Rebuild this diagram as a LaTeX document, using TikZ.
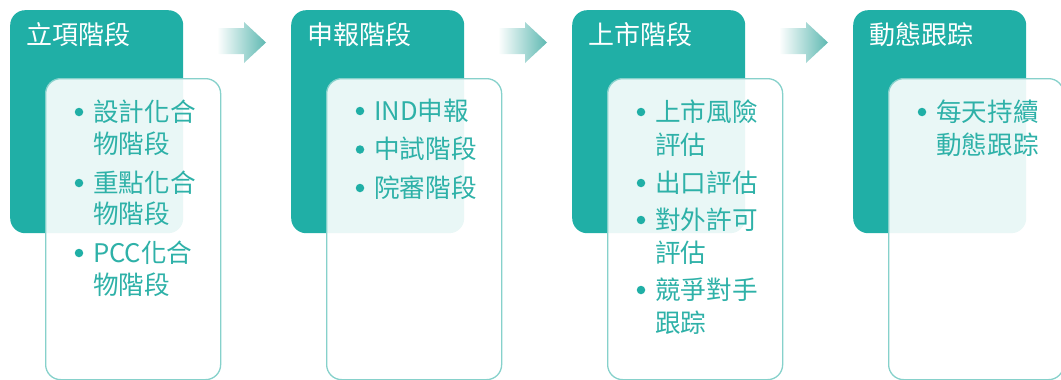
\documentclass[tikz,border=0pt]{standalone}
\usepackage{fontspec}
\setmainfont{Noto Sans CJK TC}
\definecolor{teal1}{HTML}{20AFA6}
\definecolor{edge1}{HTML}{86D1CB}
\definecolor{txt1}{HTML}{2EB1A8}
\definecolor{arr1}{HTML}{5FB9B2}
\begin{document}
\begin{tikzpicture}[x=1pt,y=-1pt,
 dark/.style={fill=teal1, rounded corners=15pt, minimum width=173pt, minimum height=223pt, anchor=north west, inner sep=0pt},
 light/.style={draw=edge1, line width=1.3pt, fill=white, fill opacity=0.9, rounded corners=15pt, minimum width=175pt, minimum height=301pt, anchor=north west, inner sep=0pt},
 ttl/.style={anchor=base west, text=white, font=\fontsize{26}{30}\selectfont, inner sep=0pt},
 itm/.style={anchor=base west, text=txt1, font=\fontsize{25.6}{30}\selectfont, inner sep=0pt},
 dot/.style={circle, fill=teal1, minimum size=8.5pt, inner sep=0pt},
 arrowshade/.style={left color=white, right color=arr1},
]
\useasboundingbox (0,0) rectangle (1061,380);

% block 1
\node[dark] (d1) at (10,10) {};
\node[ttl] (t1) at (26,45) {立項階段};
\shade[arrowshade] (217,28) -- (244,28) -- (244,22) -- (266,42.5) -- (244,63) -- (244,54) -- (217,54) -- cycle;
\node[light] (l1) at (45,78) {};
\node[dot] (b11) at (79,112) {};
\node[itm] (i11) at (93,121) {設計化合};
\node[itm] (i11b) at (93,153) {物階段};
\node[dot] (b12) at (79,183) {};
\node[itm] (i12) at (93,192) {重點化合};
\node[itm] (i12b) at (93,223) {物階段};
\node[dot] (b13) at (79,253) {};
\node[itm] (i13) at (93,262) {PCC化合};
\node[itm] (i13b) at (93,294) {物階段};

% block 2
\begin{scope}[xshift=281pt]
\node[dark] (d2) at (10,10) {};
\node[ttl] (t2) at (26,45) {申報階段};
\shade[arrowshade] (217,28) -- (244,28) -- (244,22) -- (266,42.5) -- (244,63) -- (244,54) -- (217,54) -- cycle;
\node[light] (l2) at (45,78) {};
\node[dot] (b21) at (79,111) {};
\node[itm] (i21) at (93,120) {IND申報};
\node[dot] (b22) at (79,149.5) {};
\node[itm] (i22) at (93,158.5) {中試階段};
\node[dot] (b23) at (79,188) {};
\node[itm] (i23) at (93,197) {院審階段};
\end{scope}

% block 3
\begin{scope}[xshift=562pt]
\node[dark] (d3) at (10,10) {};
\node[ttl] (t3) at (26,45) {上市階段};
\shade[arrowshade] (217,28) -- (244,28) -- (244,22) -- (266,42.5) -- (244,63) -- (244,54) -- (217,54) -- cycle;
\node[light] (l3) at (45,78) {};
\node[dot] (b31) at (79,112) {};
\node[itm] (i31) at (93,121) {上市風險};
\node[itm] (i31b) at (93,154) {評估};
\node[dot] (b32) at (79,183) {};
\node[itm] (i32) at (93,192) {出口評估};
\node[dot] (b33) at (79,220) {};
\node[itm] (i33) at (93,229) {對外許可};
\node[itm] (i33b) at (93,262) {評估};
\node[dot] (b34) at (79,290) {};
\node[itm] (i34) at (93,299) {競爭對手};
\node[itm] (i34b) at (93,332) {跟踪};
\end{scope}

% block 4
\begin{scope}[xshift=843pt]
\node[dark] (d4) at (10,10) {};
\node[ttl] (t4) at (26,45) {動態跟踪};
\node[light] (l4) at (45,78) {};
\node[dot] (b41) at (79,112) {};
\node[itm] (i41) at (93,121) {每天持續};
\node[itm] (i41b) at (93,154) {動態跟踪};
\end{scope}
\end{tikzpicture}
\end{document}
